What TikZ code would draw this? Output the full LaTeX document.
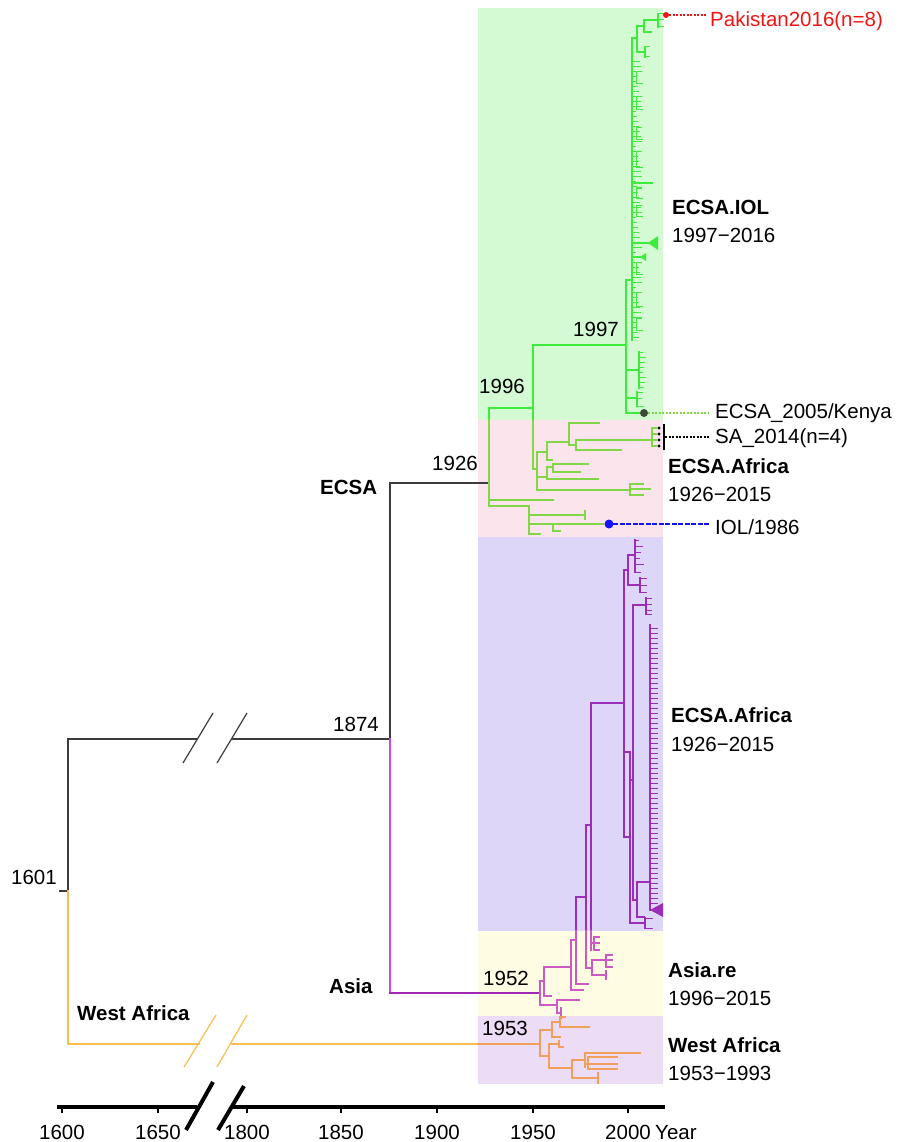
\documentclass[tikz,border=0pt]{standalone}
\usepackage{fontspec}
\setmainfont{Liberation Sans}
\definecolor{bgG}{RGB}{212,250,212}
\definecolor{bgP}{RGB}{252,228,236}
\definecolor{bgL}{RGB}{222,214,248}
\definecolor{bgY}{RGB}{254,252,226}
\definecolor{bgW}{RGB}{236,220,246}
\definecolor{lnK}{RGB}{60,60,60}
\definecolor{iolC}{RGB}{60,235,60}
\definecolor{afC}{RGB}{130,215,70}
\definecolor{lavC}{RGB}{155,45,185}
\definecolor{asC}{RGB}{205,90,195}
\definecolor{magC}{RGB}{205,70,235}
\definecolor{asH}{RGB}{160,40,180}
\definecolor{waC}{RGB}{240,160,90}
\definecolor{waL}{RGB}{250,190,80}
\definecolor{pakC}{RGB}{240,20,20}
\definecolor{iolB}{RGB}{20,20,240}
\definecolor{kenC}{RGB}{60,75,55}
\begin{document}
\begin{tikzpicture}[x=1pt,y=-1pt,line cap=rect,
  lbl/.style={font=\fontsize{20.5}{24}\selectfont, inner sep=0pt, anchor=base west},
  blbl/.style={font=\fontsize{20.5}{24}\selectfont\bfseries, inner sep=0pt, anchor=base west},
  tlbl/.style={font=\fontsize{20.5}{24}\selectfont, inner sep=0pt, anchor=base},
  blk/.style={draw=lnK, line width=1.4pt},
  iol/.style={draw=iolC, line width=1.2pt},
  iolf/.style={draw=iolC, line width=1pt},
  afr/.style={draw=afC, line width=1.2pt},
  lav/.style={draw=lavC, line width=1.2pt},
  lavf/.style={draw=lavC, line width=1pt},
  asr/.style={draw=asC, line width=1.2pt},
  wab/.style={draw=waC, line width=1.2pt},
  brk/.style={line width=1.2pt, line cap=butt},
  dotc/.style={circle, inner sep=0pt, minimum size=#1},
  dotl/.style={line width=1.1pt, line cap=butt, dash pattern=on 2pt off 1.5pt}
]
\useasboundingbox (0,0) rectangle (897,1142);
% clade backgrounds
\fill[bgG] (478,8) rectangle (663,420);
\fill[bgP] (478,420) rectangle (663,537);
\fill[bgL] (478,537) rectangle (663,931);
\fill[bgY] (478,931) rectangle (663,1016);
\fill[bgW] (478,1016) rectangle (663,1084);

% main nodes
\coordinate (root) at (68,891);
\coordinate (n1874) at (390,739);
\coordinate (ecsa) at (489,483);
\coordinate (asia) at (540,993);
\coordinate (wan) at (540,1044);

% backbone
\draw[blk] (60,891) -- (root);
\draw[blk] (root) -- (68,739) -- (197,739);
\draw[blk] (232,739) -- (n1874);
\draw[lnK,brk] (183,763) -- (213,713);
\draw[lnK,brk] (217,763) -- (247,713);
\draw[blk] (n1874) -- (390,483) -- (ecsa);
\draw[draw=magC, line width=1.4pt] (n1874) -- (390,993);
\draw[draw=asH, line width=1.4pt] (390,993) -- (asia);
\draw[draw=waL, line width=1.4pt] (root) -- (68,1044) -- (199,1044);
\draw[draw=waL, line width=1.4pt] (232,1044) -- (478,1044);
\draw[wab] (478,1044) -- (wan);
\draw[waL,brk] (184,1067) -- (216,1015);
\draw[waL,brk] (217,1067) -- (247,1015);

% ECSA (green)
\draw[iol] (489,408) -- (489,420);
\draw[afr] (489,420) -- (489,506);
\draw[iol] (489,408) -- (533,408);
\draw[iol] (533,345) -- (533,420);
\draw[afr] (533,420) -- (533,469) -- (537,469);
\draw[afr] (537,452) -- (537,490);
\draw[afr] (537,452) -- (547,452);
\draw[afr] (547,442) -- (547,460) -- (552,460);
\draw[afr] (547,442) -- (569,442);
\draw[afr] (569,423) -- (569,445);
\draw[afr] (569,423) -- (599,423);
\draw[afr] (569,445) -- (576,445);
\draw[afr] (576,440) -- (576,450);
\draw[afr] (576,440) -- (652,440);
\draw[afr] (576,450) -- (621,450);
\draw[afr] (652,428) -- (652,446);
\foreach \y in {428,434,440,446} \draw[afr] (652,\y) -- (656,\y);
\draw[afr] (537,477) -- (547,477);
\draw[afr] (547,467) -- (547,479);
\draw[afr] (547,467) -- (553,467);
\draw[afr] (553,464) -- (553,472);
\draw[afr] (553,464) -- (588,464);
\draw[afr] (553,472) -- (580,472);
\draw[afr] (547,479) -- (598,479);
\draw[afr] (537,490) -- (630,490);
\draw[afr] (630,484) -- (630,495);
\draw[afr] (630,484) -- (643,484);
\draw[afr] (630,489) -- (650,489);
\draw[afr] (630,495) -- (643,495);
\draw[afr] (489,500) -- (553,500);
\draw[afr] (489,506) -- (529,506);
\draw[afr] (529,506) -- (529,534) -- (540,534);
\draw[afr] (529,515) -- (585,515);
\draw[afr] (585,511) -- (585,519);
\draw[afr] (529,524) -- (603,524);
\draw[afr] (553,524) -- (553,531) -- (560,531);

% ECSA.IOL clade
\coordinate (n1997) at (626,345);
\draw[iol] (533,345) -- (n1997);
\draw[iol] (626,280) -- (626,413);
\draw[iol] (626,398) -- (637,398);
\draw[iol] (637,392) -- (637,406);
\foreach \y/\l in {392/5,398/4,406/6} \draw[iolf] (637,\y) -- ++(\l,0);
\draw[iol] (626,370) -- (639,370);
\draw[iol] (639,352) -- (639,388);
\foreach \y in {352,357,...,388} {\pgfmathsetmacro\l{3+mod(\y*3,4)} \draw[iolf] (639,\y) -- ++(\l,0);}
\draw[iol] (626,280) -- (632,280);
\draw[iol] (632,38) -- (632,340);
\draw[iol] (632,38) -- (637,38);
\draw[iol] (637,26) -- (637,52);
\draw[iol] (637,26) -- (644,26);
\draw[iol] (644,20) -- (644,32) -- (651,32);
\draw[iol] (644,20) -- (658,20);
\draw[iol] (658,14) -- (658,27);
\foreach \y in {14,20,27} \draw[iolf] (658,\y) -- (663,\y);
\draw[iol] (637,52) -- (645,52);
\draw[iol] (645,47) -- (645,57);
\foreach \y in {47,57} \draw[iolf] (645,\y) -- (649,\y);
\foreach \y in {62,67,...,337} {\pgfmathsetmacro\l{3+mod(\y*3,7)} \draw[iolf] (632,\y) -- ++(\l,0);}
\foreach \ya/\yb in {72/84,97/110,128/140,152/168,188/198,205/216,262/274,292/306,318/330}
  {\draw[iolf] (636,\ya) -- (636,\yb);
   \draw[iolf] (636,\ya) -- (641,\ya);
   \draw[iolf] (636,\yb) -- (642,\yb);}
\draw[iol] (632,183) -- (652,183);
\draw[iol] (632,243) -- (648,243);
\fill[iolC] (648,243) -- (658,236) -- (658,250) -- cycle;
\draw[iol] (632,257) -- (640,257);
\fill[iolC] (640,257) -- (646,253) -- (646,261) -- cycle;

% ECSA.Africa (purple clade)
\draw[lav] (576,897) -- (576,931);
\draw[lav] (576,897) -- (586,897);
\draw[lav] (586,825) -- (586,931);
\draw[lav] (586,825) -- (591,825);
\draw[lav] (591,703) -- (591,931);
\draw[lav] (591,703) -- (624,703);
\draw[lav] (624,570) -- (624,837) -- (630,837);
\draw[lav] (624,570) -- (628,570);
\draw[lav] (628,555) -- (628,585);
\draw[lav] (628,555) -- (635,555);
\draw[lav] (635,540) -- (635,572);
\foreach \y/\l in {540/3,546/7,552/5,558/4,564/8,572/5} \draw[lavf] (635,\y) -- ++(\l,0);
\draw[lav] (628,585) -- (640,585);
\draw[lav] (640,578) -- (640,592);
\foreach \y in {578,585,592} \draw[lavf] (640,\y) -- (646,\y);
\draw[lav] (624,752) -- (630,752);
\draw[lav] (630,752) -- (630,923) -- (645,923);
\draw[lav] (645,918) -- (645,928);
\foreach \y in {918,928} \draw[lavf] (645,\y) -- (652,\y);
\draw[lav] (630,780) -- (633,780);
\draw[lav] (633,605) -- (633,900);
\draw[lav] (633,605) -- (646,605);
\draw[lav] (646,598) -- (646,614);
\foreach \y in {598,604,610,614} \draw[lavf] (646,\y) -- (651,\y);
\draw[lav] (633,900) -- (637,900);
\draw[lav] (637,882) -- (637,917) -- (644,917);
\draw[lav] (637,882) -- (650,882);
\draw[lav] (650,625) -- (650,910);
\foreach \y in {628,633,...,903} {\pgfmathsetmacro\l{3+mod(\y*3,5)} \draw[lavf] (650,\y) -- ++(\l,0);}
\fill[lavC] (650,910) -- (663,903) -- (663,917) -- cycle;

% Asia.re
\draw[asr] (540,981) -- (540,1005);
\draw[asr] (540,981) -- (544,981);
\draw[asr] (544,967) -- (544,996) -- (551,996);
\draw[asr] (544,967) -- (571,967);
\draw[asr] (571,940) -- (571,990) -- (583,990);
\draw[asr] (571,940) -- (576,940);
\draw[asr] (576,931) -- (576,984) -- (588,984);
\draw[asr] (586,931) -- (586,968) -- (592,968);
\draw[asr] (591,931) -- (591,950);
\draw[asr] (591,943) -- (594,943);
\draw[asr] (594,937) -- (594,950);
\foreach \y in {937,943,950} \draw[asr] (594,\y) -- (599,\y);
\draw[asr] (592,960) -- (592,975);
\draw[asr] (592,960) -- (606,960);
\draw[asr] (606,955) -- (606,967);
\foreach \y in {955,960,967} \draw[asr] (606,\y) -- (612,\y);
\draw[asr] (592,975) -- (606,975);
\draw[asr] (606,971) -- (606,979);
\draw[asr] (540,1005) -- (557,1005);
\draw[asr] (557,1000) -- (557,1013);
\draw[asr] (557,1000) -- (579,1000);
\draw[asr] (557,1013) -- (561,1013);
\draw[asr] (561,1008) -- (561,1018);

% West Africa
\draw[wab] (540,1030) -- (540,1056);
\draw[wab] (540,1030) -- (552,1030);
\draw[wab] (552,1022) -- (552,1037) -- (560,1037);
\draw[wab] (552,1022) -- (560,1022);
\draw[wab] (560,1017) -- (560,1027);
\draw[wab] (560,1017) -- (565,1017);
\draw[wab] (560,1027) -- (589,1027);
\draw[wab] (540,1056) -- (549,1056);
\draw[wab] (549,1044) -- (549,1068);
\draw[wab] (549,1044) -- (559,1044);
\draw[wab] (559,1041) -- (559,1047) -- (563,1047);
\draw[wab] (549,1068) -- (572,1068);
\draw[wab] (572,1060) -- (572,1078);
\draw[wab] (572,1060) -- (585,1060);
\draw[wab] (585,1053) -- (585,1067);
\draw[wab] (585,1053) -- (640,1053);
\draw[wab] (588,1057) -- (617,1057);
\draw[wab] (585,1064) -- (617,1064);
\draw[wab] (588,1057) -- (588,1069) -- (617,1069);
\draw[wab] (572,1078) -- (598,1078);
\draw[wab] (598,1073) -- (598,1083);

% tip markers and connectors
\node[dotc=6pt, fill=pakC] (pakdot) at (666,15) {};
\coordinate (pakEnd) at (706,15);
\draw[pakC, dotl] (pakdot) -- (pakEnd);
\node[dotc=8pt, fill=kenC] (kendot) at (644,413) {};
\draw[iol] (626,413) -- (kendot);
\coordinate (kenEnd) at (709,413);
\draw[afC, dotl] (kendot) -- (kenEnd);
\foreach \y in {428,434,440,446} \fill[black] (659,\y) circle (1.6);
\draw[black, line width=1.5pt] (664,425) -- (664,449);
\coordinate (saA) at (665,437);
\coordinate (saEnd) at (710,437);
\draw[black, dotl] (saA) -- (saEnd);
\node[dotc=9pt, fill=iolB] (ioldot) at (609,524) {};
\coordinate (iolEnd) at (710,524);
\draw[iolB, line width=1.2pt, dash pattern=on 4pt off 2.5pt] (ioldot) -- (iolEnd);

% labels
\node[lbl, text=pakC] (tPak) at (710,27) {Pakistan2016(n=8)};
\node[blbl] (tIOL) at (672,214) {ECSA.IOL};
\node[lbl] (tIOLy) at (672,242) {1997−2016};
\node[lbl] (t1997) at (573,336) {1997};
\node[lbl] (t1996) at (479,393) {1996};
\node[lbl] (tKen) at (715,418) {ECSA\_2005/Kenya};
\node[lbl] (tSA) at (715,443) {SA\_2014(n=4)};
\node[blbl] (tAf1) at (668,473) {ECSA.Africa};
\node[lbl] (tAf1y) at (668,501) {1926−2015};
\node[lbl] (tIOLb) at (715,534) {IOL/1986};
\node[lbl] (t1926) at (432,470) {1926};
\node[blbl] (tECSA) at (320,494) {ECSA};
\node[lbl] (t1874) at (333,731) {1874};
\node[lbl] (t1601) at (11,884) {1601};
\node[blbl] (tAf2) at (671,722) {ECSA.Africa};
\node[lbl] (tAf2y) at (671,751) {1926−2015};
\node[blbl] (tAsre) at (668,977) {Asia.re};
\node[lbl] (tAsrey) at (668,1005) {1996−2015};
\node[blbl] (tWAr) at (668,1052) {West Africa};
\node[lbl] (tWAry) at (668,1080) {1953−1993};
\node[blbl] (tAsia) at (329,993) {Asia};
\node[blbl] (tWAl) at (77,1020) {West Africa};
\node[lbl] (t1952) at (483,985) {1952};
\node[lbl] (t1953) at (482,1035) {1953};

% time axis
\draw[black, line width=4pt, line cap=butt] (57,1107) -- (197,1107);
\draw[black, line width=4pt, line cap=butt] (232,1107) -- (665,1107);
\draw[black, line width=4pt, line cap=butt] (186,1130) -- (213,1082);
\draw[black, line width=4pt, line cap=butt] (218,1130) -- (244,1086);
\foreach \x/\t in {62/1600,158/1650,247/1800,341/1850,437/1900,533/1950,628/2000}
  {\draw[black, line width=1.5pt, line cap=butt] (\x,1107) -- (\x,1113);
   \node[tlbl] (ax\t) at (\x,1139) {\t};}
\node[lbl] (tYear) at (655,1139) {Year};
\end{tikzpicture}
\end{document}
